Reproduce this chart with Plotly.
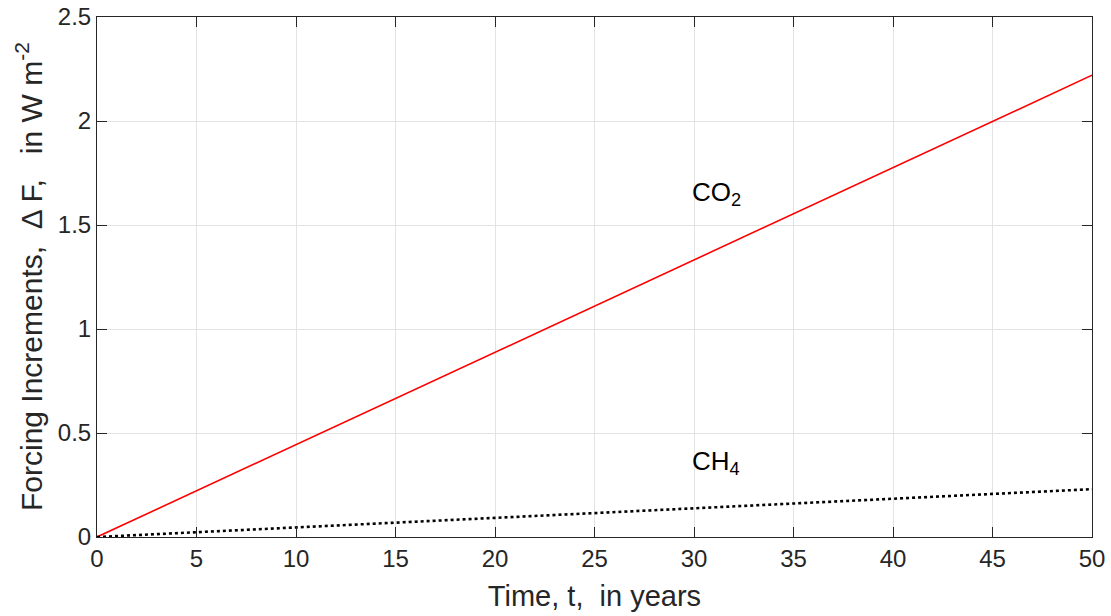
import plotly.graph_objects as go

years = [0, 10, 20, 30, 40, 50]
co2 = [0.0, 0.444, 0.888, 1.332, 1.776, 2.22]
ch4 = [0.0, 0.046, 0.092, 0.138, 0.184, 0.23]
xticks = [0, 5, 10, 15, 20, 25, 30, 35, 40, 45, 50]
yticks = [0, 0.5, 1, 1.5, 2, 2.5]
ytick_text = ["0", "0.5", "1", "1.5", "2", "2.5"]

FONT = "Liberation Sans, Arial, sans-serif"
AX = "#262626"

fig = go.Figure()
fig.add_trace(go.Scatter(x=years, y=co2, mode="lines",
                         line=dict(color="#ff0000", width=1.6), showlegend=False))
fig.add_trace(go.Scatter(x=years, y=ch4, mode="lines",
                         line=dict(color="#000000", width=2.6, dash="dot"), showlegend=False))

fig.add_annotation(x=30, y=1.65, text="CO<sub>2</sub>", showarrow=False,
                   xanchor="left", yanchor="middle", xshift=-4,
                   font=dict(family=FONT, size=26, color="#000000"))
fig.add_annotation(x=30, y=0.36, text="CH<sub>4</sub>", showarrow=False,
                   xanchor="left", yanchor="middle", xshift=-4,
                   font=dict(family=FONT, size=26, color="#000000"))

# y-axis title as rotated text
fig.add_annotation(xref="paper", yref="paper", x=-0.0643, y=0.5, xshift=-4,
                   text="Forcing Increments,  Δ F,   in W m<sup>-2</sup>",
                   textangle=-90, showarrow=False, xanchor="center", yanchor="middle",
                   font=dict(family=FONT, size=30, color=AX))

axis_common = dict(showline=True, linecolor=AX, linewidth=1, mirror="ticks",
                   ticks="inside", ticklen=10, tickcolor=AX, tickwidth=1,
                   showgrid=True, gridcolor="#e3e3e3", gridwidth=1, zeroline=False,
                   automargin=False,
                   tickfont=dict(family=FONT, size=24, color=AX))

fig.update_xaxes(range=[0, 50], tickvals=xticks,
                 title=dict(text="Time, t,  in years", font=dict(family=FONT, size=29, color=AX), standoff=14),
                 **axis_common)
fig.update_yaxes(range=[0, 2.5], tickvals=yticks, ticktext=ytick_text,
                 **axis_common)

fig.update_layout(width=1111, height=616, margin=dict(l=97, r=19, t=17, b=79),
                  plot_bgcolor="white", paper_bgcolor="white",
                  font=dict(family=FONT))

fig.write_html("out.html", config={"displayModeBar": False},
               post_script="document.body.style.margin='0';")
